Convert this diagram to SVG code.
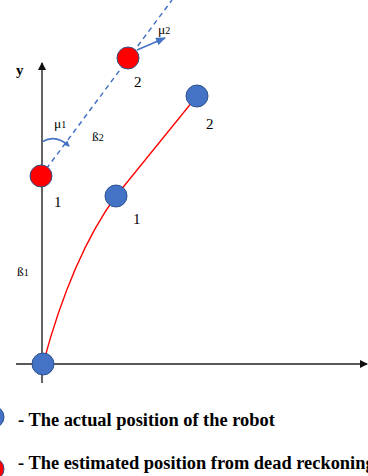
<svg xmlns="http://www.w3.org/2000/svg" width="368" height="476" viewBox="0 0 368 476">
<style>
text{font-family:"Liberation Serif","Times New Roman",serif;fill:#000}
.lbl{font-size:15px}
.sym{font-size:13.5px}
.sub{font-size:10px}
.leg{font-size:18.4px;font-weight:bold}
.axis{stroke:#222;stroke-width:1.4;fill:none}
.blue{fill:#4472C4;stroke:#2F528F;stroke-width:1}
.red{fill:#FF0000;stroke:#2F528F;stroke-width:1}
.path{stroke:#FF0000;stroke-width:1.3;fill:none}
.dash{stroke:#4472C4;stroke-width:1.5;fill:none;stroke-dasharray:5 4}
.conn{stroke:#4472C4;stroke-width:1.5;fill:none}
</style>
<defs>
<marker id="ak" markerWidth="8" markerHeight="8" refX="7" refY="4" orient="auto" markerUnits="userSpaceOnUse">
<path d="M0,0 L8,4 L0,8 Z" fill="#111"/>
</marker>
<marker id="ab" markerWidth="10" markerHeight="8" refX="9" refY="4" orient="auto" markerUnits="userSpaceOnUse">
<path d="M0,0 L10,4 L0,8 Z" fill="#4472C4"/>
</marker>
<marker id="abs" markerWidth="6" markerHeight="6" refX="5" refY="3" orient="auto" markerUnits="userSpaceOnUse">
<path d="M0,0 L6,3 L0,6 Z" fill="#4472C4"/>
</marker>
</defs>
<g id="axes">
<line class="axis" x1="42" y1="383" x2="42" y2="63" marker-end="url(#ak)"/>
<line class="axis" x1="16" y1="364" x2="367" y2="364" marker-end="url(#ak)"/>
<text x="16" y="75" style="font-size:15px;font-weight:bold">y</text>
</g>
<g id="connectors">
<path class="path" d="M43,364 Q72,256 116,196 L197,96"/>
<line class="dash" x1="41" y1="176" x2="172" y2="0"/>
<line class="conn" x1="137" y1="50" x2="165" y2="38" marker-end="url(#ab)"/>
<path class="conn" d="M42.5,141.5 Q56,134 69,146" marker-end="url(#abs)"/>
</g>
<g id="origin"><circle class="blue" cx="43" cy="364" r="11"/></g>
<g id="actual1"><circle class="blue" cx="116" cy="196" r="11"/><text class="lbl" x="133" y="224">1</text></g>
<g id="actual2"><circle class="blue" cx="197" cy="96" r="11"/><text class="lbl" x="206" y="129">2</text></g>
<g id="estimated1"><circle class="red" cx="41" cy="176" r="11"/><text class="lbl" x="54" y="207">1</text></g>
<g id="estimated2"><circle class="red" cx="128" cy="58" r="11"/><text class="lbl" x="134" y="87">2</text></g>
<g id="labels">
<text class="sym" x="54" y="128">μ<tspan class="sub">1</tspan></text>
<text class="sym" x="92" y="141">ß<tspan class="sub">2</tspan></text>
<text class="sym" x="17" y="276">ß<tspan class="sub">1</tspan></text>
<text class="sym" x="158" y="34">μ<tspan class="sub">2</tspan></text>
</g>
<g id="legend-actual"><circle class="blue" cx="-7" cy="417" r="11"/><text class="leg" x="18" y="426">- The actual position of the robot</text></g>
<g id="legend-estimated"><circle class="red" cx="-7" cy="469" r="11"/><text class="leg" x="18" y="469">- The estimated position from dead reckoning</text></g>
</svg>
